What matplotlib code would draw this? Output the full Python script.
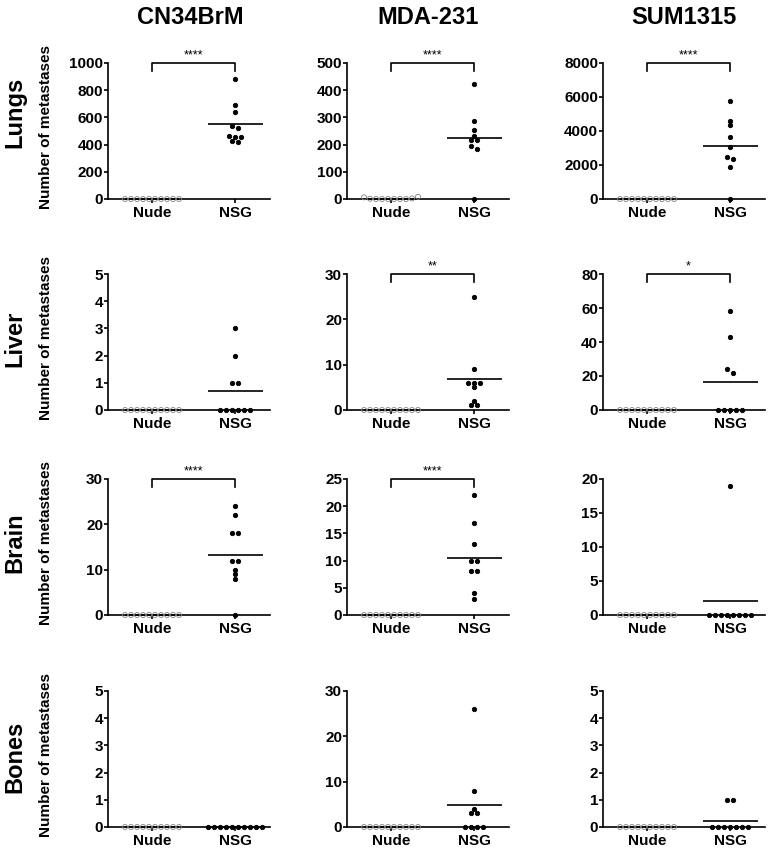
import matplotlib.pyplot as plt
import numpy as np

plt.rcParams["font.family"] = ["Liberation Sans", "DejaVu Sans"]

FIG_W, FIG_H = 775, 848

CELL_LINES = ["CN34BrM", "MDA-231", "SUM1315"]
ORGANS = ["Lungs", "Liver", "Brain", "Bones"]
GROUPS = ["Nude", "NSG"]

# values per organ, one list per cell line
lungs_nude = [
    [0, 0, 0, 0, 0, 0, 0, 0, 0, 0],
    [6, 1, 0, 0, 0, 0, 0, 0, 2, 8],
    [0, 0, 0, 0, 0, 0, 0, 0, 0, 0],
]
lungs_nsg = [
    [880, 690, 640, 535, 520, 460, 455, 455, 430, 420],
    [422, 286, 252, 232, 217, 217, 194, 185, 0],
    [5770, 4585, 4350, 3640, 3060, 2470, 2370, 1860, 0],
]
liver_nude = [
    [0, 0, 0, 0, 0, 0, 0, 0, 0, 0],
    [0, 0, 0, 0, 0, 0, 0, 0, 0, 0],
    [0, 0, 0, 0, 0, 0, 0, 0, 0, 0],
]
liver_nsg = [
    [3, 2, 1, 1, 0, 0, 0, 0, 0, 0],
    [25, 9, 6, 6, 6, 5, 2, 1, 1],
    [58, 43, 24, 22, 0, 0, 0, 0, 0],
]
brain_nude = [
    [0, 0, 0, 0, 0, 0, 0, 0, 0, 0],
    [0, 0, 0, 0, 0, 0, 0, 0, 0, 0],
    [0, 0, 0, 0, 0, 0, 0, 0, 0, 0],
]
brain_nsg = [
    [24, 22, 18, 18, 12, 12, 10, 9, 8, 0],
    [22, 17, 13, 10, 10, 8, 8, 4, 3],
    [19, 0, 0, 0, 0, 0, 0, 0, 0],
]
bones_nude = [
    [0, 0, 0, 0, 0, 0, 0, 0, 0, 0],
    [0, 0, 0, 0, 0, 0, 0, 0, 0, 0],
    [0, 0, 0, 0, 0, 0, 0, 0, 0, 0],
]
bones_nsg = [
    [0, 0, 0, 0, 0, 0, 0, 0, 0, 0],
    [26, 8, 4, 3, 3, 0, 0, 0, 0],
    [1, 1, 0, 0, 0, 0, 0, 0, 0],
]

NUDE = {"Lungs": lungs_nude, "Liver": liver_nude, "Brain": brain_nude, "Bones": bones_nude}
NSG = {"Lungs": lungs_nsg, "Liver": liver_nsg, "Brain": brain_nsg, "Bones": bones_nsg}

Y_MAX = {"Lungs": [1000, 500, 8000], "Liver": [5, 30, 80], "Brain": [30, 25, 20], "Bones": [5, 30, 5]}
Y_STEP = {"Lungs": [200, 100, 2000], "Liver": [1, 10, 20], "Brain": [10, 5, 5], "Bones": [1, 10, 1]}
STARS = {
    "Lungs": ["****", "****", "****"],
    "Liver": ["", "**", "*"],
    "Brain": ["****", "****", ""],
    "Bones": ["", "", ""],
}

# layout in pixels
COL_LEFT = [108, 347, 603]
ROW_TOP = [63, 274, 479, 691]
AX_W, AX_H = 162, 136
XLIM = (-0.53, 1.42)
DOT_GAP = 6.0  # px between dots in one row
ROW_LABEL_Y = [112, 339, 543, 757]
TITLE_X = [190, 428, 684]


def row_offsets(values, px_per_unit):
    """GraphPad-like scatter: close values share a centred row."""
    values = np.asarray(values, dtype=float)
    order = np.argsort(values, kind="stable")
    offsets = np.zeros(len(values))
    rows, current, start = [], [], None
    for idx in order:
        y_px = values[idx] * px_per_unit
        if start is None or y_px - start > 3.5:
            if current:
                rows.append(current)
            current, start = [idx], y_px
        else:
            current.append(idx)
    if current:
        rows.append(current)
    unit = DOT_GAP / (AX_W / (XLIM[1] - XLIM[0]))
    for row in rows:
        row = sorted(row)
        n = len(row)
        for k, idx in enumerate(row):
            offsets[idx] = (k - (n - 1) / 2) * unit
    return offsets


def draw_panel(ax, nude, nsg, ymax, step, stars):
    px_per_unit = AX_H / ymax
    for pos, (vals, face, edge, size) in enumerate(
        [(nude, "none", "#808080", 13), (nsg, "black", "black", 10)]
    ):
        off = row_offsets(vals, px_per_unit)
        ax.scatter(pos + off, vals, s=size, facecolors=face, edgecolors=edge,
                   linewidths=0.6, clip_on=False, zorder=3)
        ax.hlines(np.mean(vals), pos - 0.33, pos + 0.33, color="black",
                  linewidth=1.2, zorder=2, clip_on=False)

    ax.set_xlim(*XLIM)
    ax.set_ylim(0, ymax)
    ax.set_yticks(np.arange(0, ymax + step / 2, step))
    ax.set_xticks([0, 1])
    ax.set_xticklabels(GROUPS)
    for side in ["top", "right"]:
        ax.spines[side].set_visible(False)
    for side in ["left", "bottom"]:
        ax.spines[side].set_linewidth(1.2)
    ax.tick_params(axis="y", length=3, width=1.2, pad=0.5, labelsize=11)
    ax.tick_params(axis="x", length=3, width=1.2, pad=2, labelsize=11)
    for lab in ax.get_xticklabels() + ax.get_yticklabels():
        lab.set_fontweight("bold")

    if stars:
        drop = ymax * 0.06
        ax.plot([0, 0, 1, 1], [ymax - drop, ymax, ymax, ymax - drop],
                color="black", linewidth=1.2, clip_on=False)
        ax.annotate(stars, (0.5, ymax), xytext=(0, 1), textcoords="offset points",
                    ha="center", va="bottom", fontsize=9)


fig = plt.figure(figsize=(FIG_W / 100, FIG_H / 100), dpi=100)

for r, organ in enumerate(ORGANS):
    for c in range(3):
        rect = [COL_LEFT[c] / FIG_W, 1 - (ROW_TOP[r] + AX_H) / FIG_H,
                AX_W / FIG_W, AX_H / FIG_H]
        ax = fig.add_axes(rect)
        draw_panel(ax, NUDE[organ][c], NSG[organ][c], Y_MAX[organ][c],
                   Y_STEP[organ][c], STARS[organ][c])
    fig.text(15 / FIG_W, 1 - ROW_LABEL_Y[r] / FIG_H, organ, rotation=90,
             ha="center", va="center", fontsize=17, fontweight="bold")
    fig.text(46 / FIG_W, 1 - (ROW_TOP[r] + 64) / FIG_H, "Number of metastases",
             rotation=90, ha="center", va="center", fontsize=11, fontweight="bold")

for c, name in enumerate(CELL_LINES):
    fig.text(TITLE_X[c] / FIG_W, 1 - 18 / FIG_H, name, ha="center", va="center",
             fontsize=17, fontweight="bold")

fig.savefig("out.png", dpi=100)
